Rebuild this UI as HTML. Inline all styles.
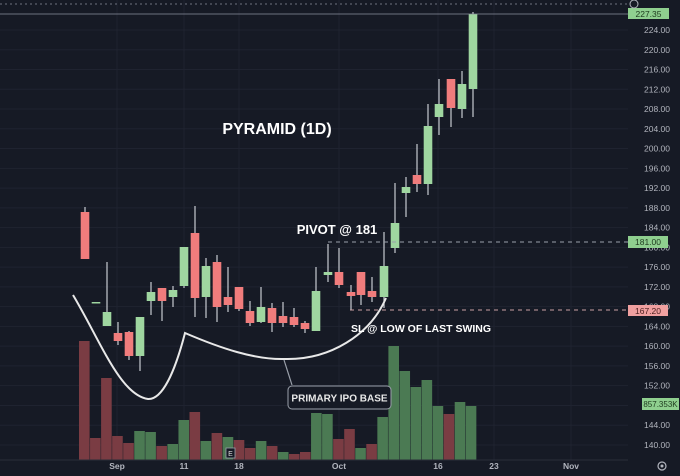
<!DOCTYPE html>
<html><head><meta charset="utf-8"><style>
html,body{margin:0;padding:0;background:#161a25;}
svg{display:block;font-family:"Liberation Sans",sans-serif;}
</style></head><body>
<svg id="s" width="680" height="476" viewBox="0 0 680 476" xmlns="http://www.w3.org/2000/svg">
<rect width="680" height="476" fill="#161a25"/>
<g id="grid" stroke="#1f2330" stroke-width="1"></g>
<g id="vol"></g>
<g id="cdl"></g>
<line x1="0" y1="4" x2="628" y2="4" stroke="#8a8f9c" stroke-dasharray="2,3" stroke-width="0.8"/>
<line x1="0" y1="14" x2="628" y2="14" stroke="#8a8f9c" stroke-width="0.8"/>
<line x1="328" y1="242" x2="628" y2="242" stroke="#9aa0aa" stroke-dasharray="4,4" stroke-width="1"/>
<line x1="350" y1="310" x2="628" y2="310" stroke="#c9a0a4" stroke-dasharray="4,4" stroke-width="1"/>
<path d="M73,295 C100,340 120,395 148,399 C165,400 178,360 185,333 C220,348 255,360 285,359 C330,360 370,335 386,298" fill="none" stroke="#e8e8e8" stroke-width="2"/>
<path d="M284,360 L292,385" stroke="#9aa0aa" stroke-width="1.2"/>
<rect x="288" y="386" width="103" height="23" rx="4" fill="#161a25" stroke="#9aa0aa" stroke-width="1"/>
<text x="339.5" y="401.5" fill="#e8e8e8" font-size="10" font-weight="bold" text-anchor="middle">PRIMARY IPO BASE</text>
<text x="277" y="134" fill="#fff" font-size="16" font-weight="bold" text-anchor="middle">PYRAMID (1D)</text>
<text x="337" y="234" fill="#fff" font-size="13" font-weight="bold" text-anchor="middle">PIVOT @ 181</text>
<text x="421" y="332" fill="#fff" font-size="10.5" font-weight="bold" text-anchor="middle">SL @ LOW OF LAST SWING</text>
<g id="axis" fill="#b2b5be" font-size="8.5"></g>
<line x1="0" y1="460" x2="628" y2="460" stroke="#2a2e39"/>
<rect x="628" y="8" width="41" height="11" fill="#8fcf8f"/><text x="648.5" y="17" font-size="8.5" text-anchor="middle" fill="#1e3a1e">227.35</text>
<rect x="628" y="236" width="40" height="12" fill="#8fcf8f"/><text x="648" y="245" font-size="8.5" text-anchor="middle" fill="#1e3a1e">181.00</text>
<rect x="628" y="305" width="40" height="11" fill="#f0a0a0"/><text x="648" y="314" font-size="8.5" text-anchor="middle" fill="#4a1e1e">167.20</text>
<rect x="642" y="398" width="37" height="12" fill="#8fcf8f"/><text x="660.5" y="407" font-size="8" text-anchor="middle" fill="#1e3a1e">857.353K</text>
<circle cx="662" cy="466" r="4" fill="none" stroke="#b2b5be" stroke-width="1.2"/><circle cx="662" cy="466" r="1.5" fill="#b2b5be"/>
<circle cx="634" cy="4" r="4" fill="none" stroke="#b2b5be" stroke-width="1"/>
<rect x="226" y="448" width="9" height="10" fill="#161a25" stroke="#9aa0aa" stroke-width="0.8"/><text x="230.5" y="456" font-size="7" text-anchor="middle" fill="#ddd">E</text>
</svg>
<script>
const NS="http://www.w3.org/2000/svg";
function el(p,t,a,txt){const e=document.createElementNS(NS,t);for(const k in a)e.setAttribute(k,a[k]);if(txt)e.textContent=txt;document.getElementById(p).appendChild(e);}
for(let p=140;p<=224;p+=4){const y=30+(224-p)*4.94;el('grid','line',{x1:0,y1:y,x2:628,y2:y});el('axis','text',{x:657,y:y+3,'text-anchor':'middle'},p.toFixed(2));}
const xl=[[117,'Sep'],[184,'11'],[239,'18'],[339,'Oct'],[438,'16'],[494,'23'],[571,'Nov']];
xl.forEach(([x,t])=>{el('grid','line',{x1:x,y1:0,x2:x,y2:460});el('axis','text',{x:x,y:469,'text-anchor':'middle','font-weight':'bold'},t);});
const vt=[341,438,378,436,443,431,432,446,444,420,412,441,433,437,440,448,441,446,452,454,452,413,414,439,429,448,444,417,346,371,387,380,406,414,402,406];
const vc="rrrrrggrggrgrgrrgrgrrggrrgrggggggrgg";
vt.forEach((t,i)=>{const x=79+i*11.05;el('vol','rect',{x:x,y:t,width:10.6,height:460-t,fill:vc[i]=='r'?'#7a3c43':'#4b7a53'});});
const C=[[85,212,259,207,259,'r'],[96,302,303,302,303,'n'],[107,312,326,262,326,'g'],[118,333,341,322,345,'r'],[129,332,356,331,360,'r'],[140,317,356,317,371,'g'],[151,292,301,282,315,'g'],[162,288,301,288,321,'r'],[173,290,297,286,307,'g'],[184,247,286,247,288,'g'],[195,233,298,206,317,'r'],[206,266,297,258,318,'g'],[217,262,307,255,322,'r'],[228,297,305,267,312,'r'],[239,287,309,287,311,'r'],[250,311,323,301,326,'r'],[261,307,322,287,323,'g'],[272,308,323,303,332,'r'],[283,316,323,302,327,'r'],[294,317,325,308,327,'r'],[305,323,329,321,333,'r'],[316,291,331,267,331,'g'],[328,272,275,244,282,'g'],[339,272,285,248,288,'r'],[351,292,296,285,310,'r'],[361,272,295,272,305,'r'],[372,291,297,277,302,'r'],[384,266,297,232,308,'g'],[395,223,248,183,253,'g'],[406,187,193,177,217,'g'],[417,175,184,144,192,'r'],[428,126,184,104,195,'g'],[439,104,117,79,135,'g'],[451,79,108,79,127,'r'],[462,84,109,71,118,'g'],[473,14,89,12,117,'g']];
C.forEach(([x,t,b,wt,wb,c])=>{const f=c=='r'?'#f07c7c':'#9fd6a0';
el('cdl','line',{x1:x,y1:wt,x2:x,y2:wb,stroke:'#c8cbd2','stroke-width':1.2});
el('cdl','rect',{x:x-4.3,y:t,width:8.6,height:Math.max(b-t,1.5),fill:f});});
</script>
</body></html>
